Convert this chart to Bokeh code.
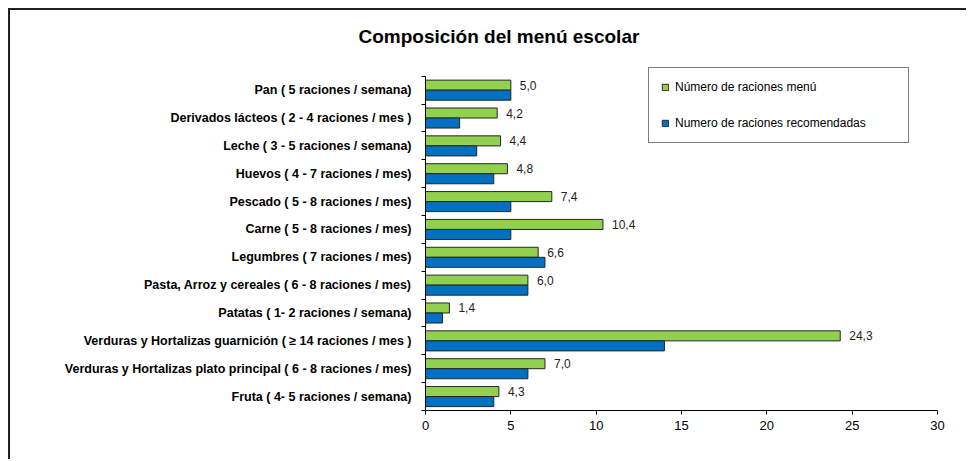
from bokeh.plotting import figure
from bokeh.models import (Range1d, LinearAxis, FixedTicker,
                          ColumnDataSource, Legend, LegendItem, Title)
from bokeh.core.properties import value
from bokeh.embed import file_html
from bokeh.resources import INLINE

# ---------------- data (top to bottom as shown) ----------------
categories = [
    "Pan ( 5 raciones / semana)",
    "Derivados lácteos ( 2 - 4 raciones / mes )",
    "Leche ( 3 - 5 raciones / semana)",
    "Huevos ( 4 - 7 raciones / mes)",
    "Pescado ( 5 - 8 raciones / mes)",
    "Carne ( 5 - 8 raciones / mes)",
    "Legumbres ( 7 raciones / mes)",
    "Pasta, Arroz y cereales ( 6 - 8 raciones / mes)",
    "Patatas ( 1- 2 raciones / semana)",
    "Verduras y Hortalizas guarnición ( ≥ 14 raciones / mes )",
    "Verduras y Hortalizas plato principal ( 6 - 8 raciones / mes)",
    "Fruta ( 4- 5 raciones / semana)",
]
menu_values = [5.0, 4.2, 4.4, 4.8, 7.4, 10.4, 6.6, 6.0, 1.4, 24.3, 7.0, 4.3]
recommended_values = [5, 2, 3, 4, 5, 5, 7, 6, 1, 14, 6, 4]
menu_labels = [f"{v:.1f}".replace(".", ",") for v in menu_values]
series_names = ["Número de raciones menú", "Numero de raciones recomendadas"]
x_ticks = [0, 5, 10, 15, 20, 25, 30]

FONT = "Liberation Sans"
GREEN = "#92D050"
BLUE = "#0070C0"
EDGE = "#262626"

n = len(categories)
centers = [n - i - 0.5 for i in range(n)]          # first category at the top
bounds = list(range(n + 1))
BAR_H = 0.36

src = ColumnDataSource(dict(
    center=centers,
    y_menu=[c + BAR_H / 2 for c in centers],
    y_recom=[c - BAR_H / 2 for c in centers],
    menu=menu_values, recom=recommended_values, label=menu_labels))

p = figure(width=958, height=451,
           y_range=Range1d(0, n + 0.35), x_range=Range1d(0, 30),
           output_backend="svg", toolbar_location=None,
           y_axis_location=None,
           min_border_left=415, min_border_right=31, min_border_top=56, min_border_bottom=51)
p.styles = {"margin-left": "8px", "margin-top": "8px",
            "border-left": "2px solid #222", "border-top": "2px solid #222"}
p.outline_line_color = None
p.xgrid.grid_line_color = None
p.ygrid.grid_line_color = None
p.background_fill_color = "white"
p.border_fill_color = "white"

# x axis
xa = p.xaxis[0]
xa.ticker = FixedTicker(ticks=x_ticks)
xa.axis_line_color = "black"
xa.major_tick_line_color = "black"
xa.major_tick_in = 0
xa.major_tick_out = 4
xa.minor_tick_line_color = None
xa.major_label_text_font = FONT
xa.major_label_text_font_size = "13px"
xa.major_label_text_color = "black"
xa.major_label_standoff = 6

# y axis: names at category centres, tick marks (minor) at category boundaries
ya = LinearAxis(ticker=FixedTicker(ticks=centers, minor_ticks=bounds),
                bounds=(0, n),
                major_label_overrides={c: name for c, name in zip(centers, categories)},
                major_tick_line_color=None, major_tick_in=0, major_tick_out=0,
                minor_tick_line_color="black", minor_tick_in=0, minor_tick_out=4,
                axis_line_color="black", major_label_standoff=10,
                major_label_text_font=FONT, major_label_text_font_size="12.5px",
                major_label_text_font_style="bold", major_label_text_color="black")
p.add_layout(ya, "left")

# bars
g = p.hbar(y="y_menu", left=0, right="menu", height=BAR_H,
           fill_color=GREEN, line_color=EDGE, line_width=1, source=src)
b = p.hbar(y="y_recom", left=0, right="recom", height=BAR_H,
           fill_color=BLUE, line_color=EDGE, line_width=1, source=src)

p.text(x="menu", y="y_menu", text="label", x_offset=9,
       text_baseline="middle", text_align="left", text_font=value(FONT),
       text_font_size="12px", text_color="#222222", source=src)

legend = Legend(items=[LegendItem(label=series_names[0], renderers=[g]),
                       LegendItem(label=series_names[1], renderers=[b])],
                location=(223, 267), orientation="vertical",
                border_line_color="black", border_line_width=1,
                padding=12, spacing=22, glyph_width=8, glyph_height=8,
                label_height=8, label_standoff=6, label_width=221,
                label_text_font=FONT, label_text_font_size="12px",
                label_text_color="black",
                background_fill_color="white", background_fill_alpha=1)
p.add_layout(legend)

p.title = Title(text="Composición del menú escolar", align="left", offset=-67,
                standoff=0, padding=dict(left=0, right=0, top=0, bottom=20),
                text_font=FONT, text_font_size="19px",
                text_font_style="bold", text_color="black")

open("out.html", "w").write(file_html(p, INLINE))
